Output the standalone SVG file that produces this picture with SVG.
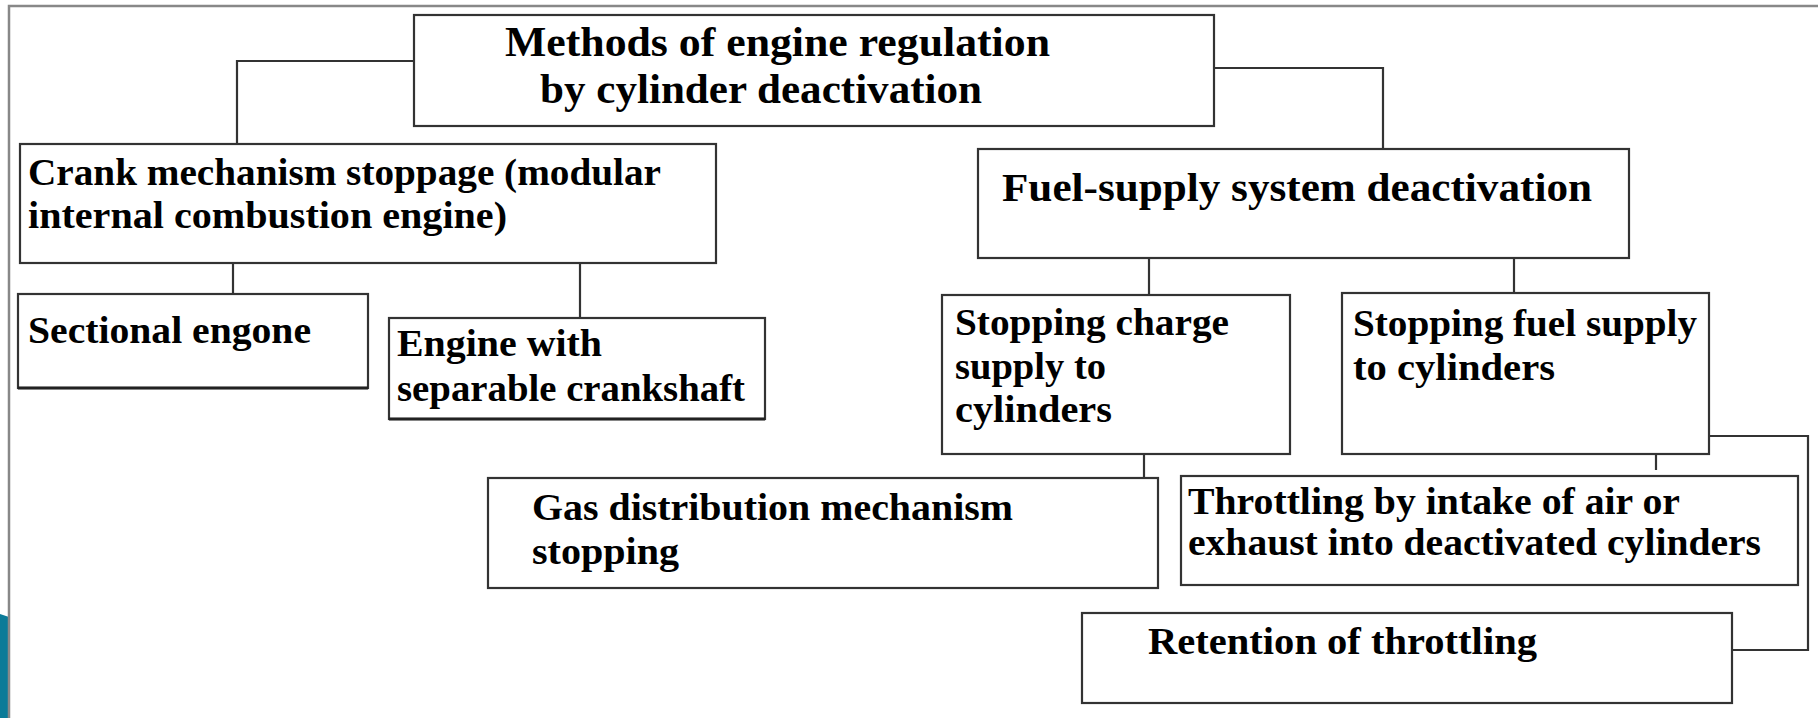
<svg xmlns="http://www.w3.org/2000/svg" width="1818" height="718" viewBox="0 0 1818 718">
<style>
.box{fill:#fff;stroke:#333;stroke-width:2.2}
.con{fill:none;stroke:#333;stroke-width:2.2}
.t{font-family:"Liberation Serif","Times New Roman",serif;font-weight:bold;font-size:38px;fill:#000}
.big{font-size:42px}
.mid{font-size:41px}
</style>
<rect width="1818" height="718" fill="#fff"/>
<polygon points="0,614 9,617 9,718 0,718" fill="#0b7b98"/>
<path d="M9,718 V6 H1818" fill="none" stroke="#888" stroke-width="2.5"/>
<g id="connectors">
<path class="con" d="M414,61 H237 V144"/>
<path class="con" d="M1214,68 H1383 V149"/>
<path class="con" d="M233,263 V294"/>
<path class="con" d="M580,263 V318"/>
<path class="con" d="M1149,258 V295"/>
<path class="con" d="M1514,258 V293"/>
<path class="con" d="M1144,454 V478"/>
<path class="con" d="M1709,436 H1808 V650 H1729"/>
<path class="con" d="M1656,454 V470"/>
</g>
<g id="n-top">
<rect class="box" x="414" y="15" width="800" height="111"/>
<text class="t big" x="505" y="56" textLength="545" lengthAdjust="spacingAndGlyphs">Methods of engine regulation</text>
<text class="t big" x="540" y="103" textLength="442" lengthAdjust="spacingAndGlyphs">by cylinder deactivation</text>
</g>
<g id="n-crank">
<rect class="box" x="20" y="144" width="696" height="119"/>
<text class="t" x="28" y="185" textLength="633" lengthAdjust="spacingAndGlyphs">Crank mechanism stoppage (modular</text>
<text class="t" x="28" y="228" textLength="479" lengthAdjust="spacingAndGlyphs">internal combustion engine)</text>
</g>
<g id="n-fuel">
<rect class="box" x="978" y="149" width="651" height="109"/>
<text class="t mid" x="1002" y="201" textLength="590" lengthAdjust="spacingAndGlyphs">Fuel-supply system deactivation</text>
</g>
<g id="n-sectional">
<rect class="box" x="18" y="294" width="350" height="94"/>
<line x1="18" y1="388" x2="368" y2="388" stroke="#222" stroke-width="3.2"/>
<text class="t" x="28" y="343" textLength="283" lengthAdjust="spacingAndGlyphs">Sectional engone</text>
</g>
<g id="n-separable">
<rect class="box" x="389" y="318" width="376" height="101"/>
<line x1="389" y1="419" x2="765" y2="419" stroke="#222" stroke-width="3.2"/>
<text class="t" x="397" y="356" textLength="205" lengthAdjust="spacingAndGlyphs">Engine with</text>
<text class="t" x="397" y="401" textLength="348" lengthAdjust="spacingAndGlyphs">separable crankshaft</text>
</g>
<g id="n-charge">
<rect class="box" x="942" y="295" width="348" height="159"/>
<text class="t" x="955" y="335" textLength="274" lengthAdjust="spacingAndGlyphs">Stopping charge</text>
<text class="t" x="955" y="379" textLength="151" lengthAdjust="spacingAndGlyphs">supply to</text>
<text class="t" x="955" y="422" textLength="157" lengthAdjust="spacingAndGlyphs">cylinders</text>
</g>
<g id="n-fuelstop">
<rect class="box" x="1342" y="293" width="367" height="161"/>
<text class="t" x="1353" y="336" textLength="344" lengthAdjust="spacingAndGlyphs">Stopping fuel supply</text>
<text class="t" x="1353" y="380" textLength="202" lengthAdjust="spacingAndGlyphs">to cylinders</text>
</g>
<g id="n-gas">
<rect class="box" x="488" y="478" width="670" height="110"/>
<text class="t" x="532" y="520" textLength="481" lengthAdjust="spacingAndGlyphs">Gas distribution mechanism</text>
<text class="t" x="532" y="564" textLength="147" lengthAdjust="spacingAndGlyphs">stopping</text>
</g>
<g id="n-throttling">
<rect class="box" x="1181" y="476" width="617" height="109"/>
<text class="t" x="1188" y="514" textLength="492" lengthAdjust="spacingAndGlyphs">Throttling by intake of air or</text>
<text class="t" x="1188" y="555" textLength="573" lengthAdjust="spacingAndGlyphs">exhaust into deactivated cylinders</text>
</g>
<g id="n-retention">
<rect class="box" x="1082" y="613" width="650" height="90"/>
<text class="t" x="1148" y="654" textLength="389" lengthAdjust="spacingAndGlyphs">Retention of throttling</text>
</g>
</svg>
